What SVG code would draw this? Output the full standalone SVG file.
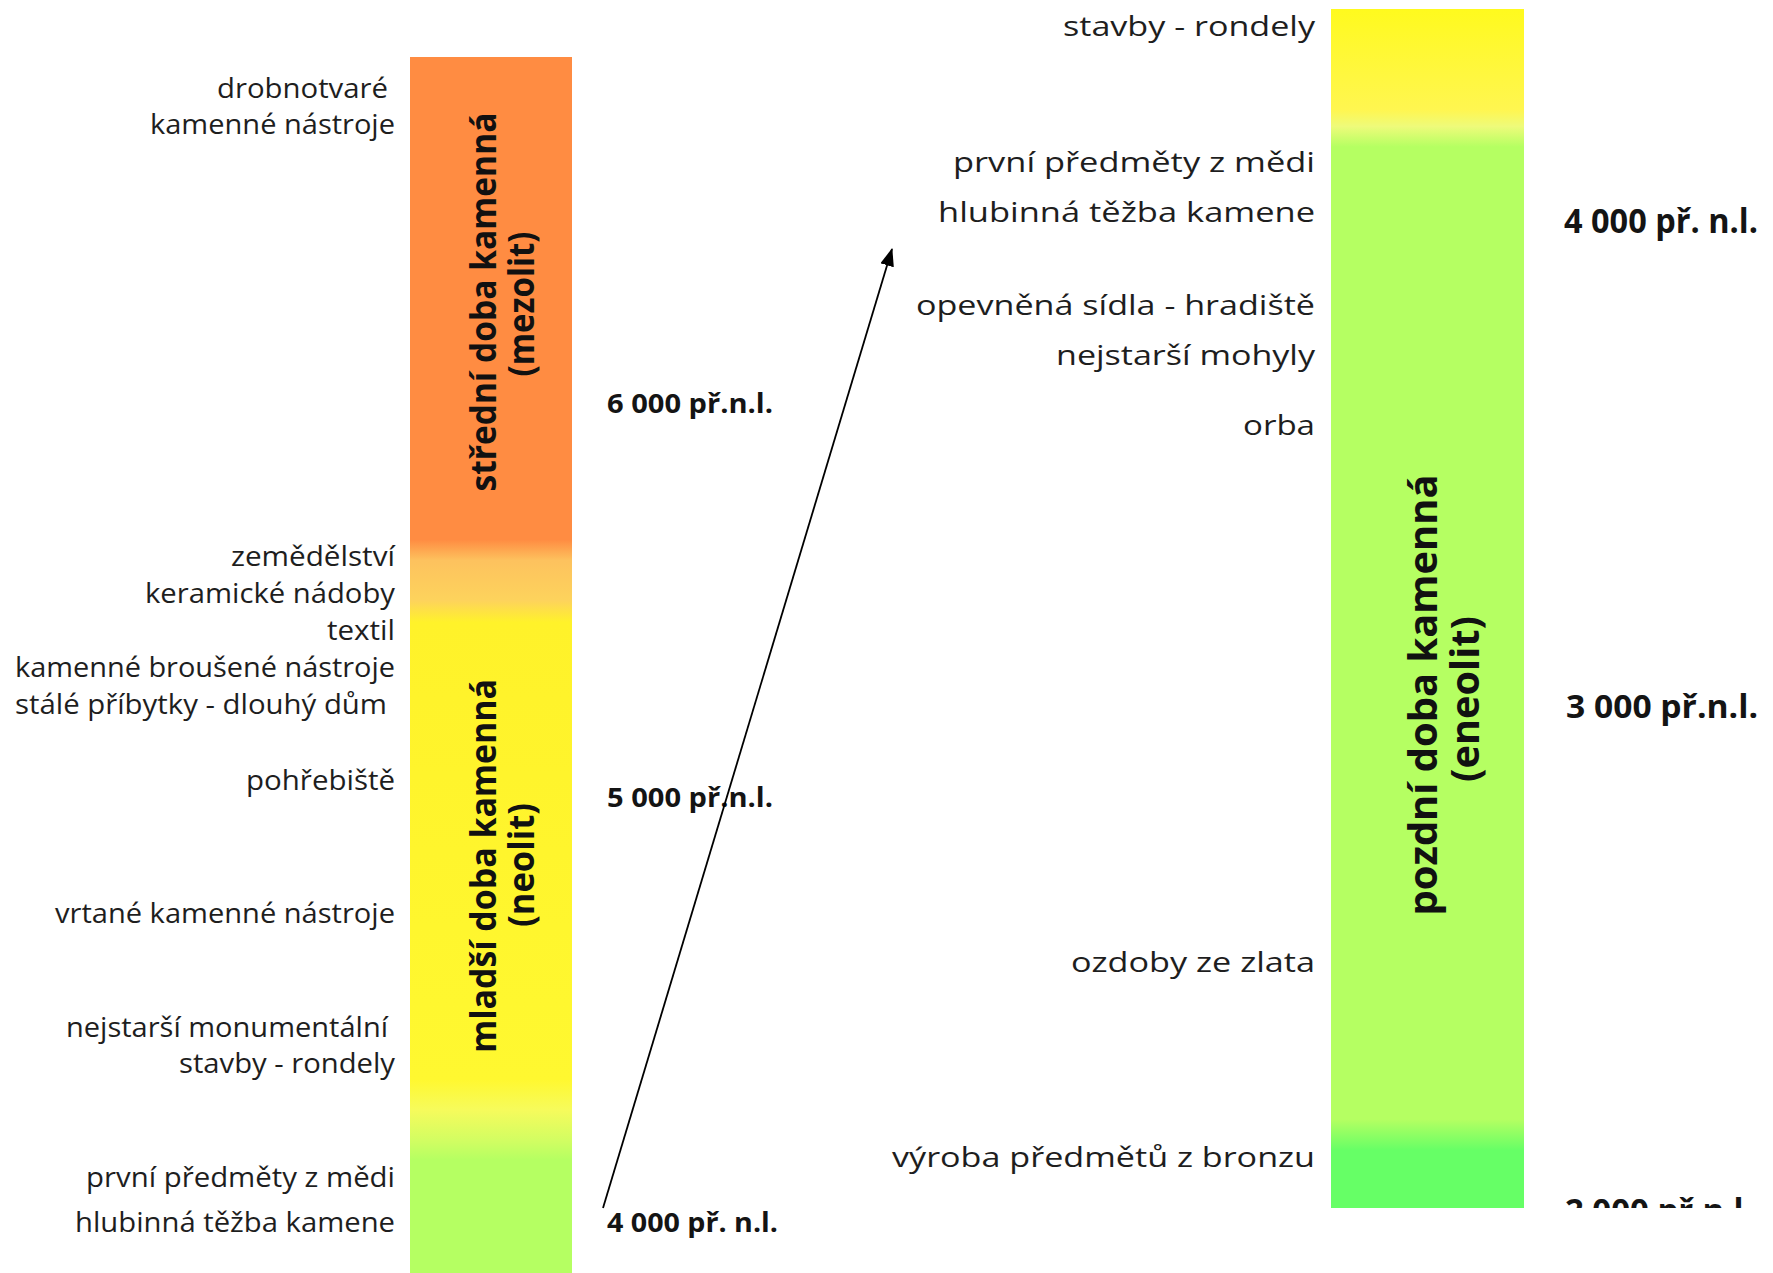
<svg xmlns="http://www.w3.org/2000/svg" width="1773" height="1273" viewBox="0 0 1773 1273">
<style>
.lbl{font-family:"Open Sans","Noto Sans","Liberation Sans",sans-serif;font-size:28px;fill:#1e1e1e;text-anchor:end}
.date{font-family:"Open Sans","Noto Sans","Liberation Sans",sans-serif;font-weight:bold;fill:#141414}
.per{font-family:"Open Sans","Noto Sans","Liberation Sans",sans-serif;font-weight:bold;fill:#111;text-anchor:middle;dominant-baseline:central}
</style>
<defs>
<linearGradient id="gL" x1="0" y1="57" x2="0" y2="1273" gradientUnits="userSpaceOnUse">
<stop offset="0" stop-color="#FF8C42"/>
<stop offset="0.397" stop-color="#FF8C42"/>
<stop offset="0.414" stop-color="#FDC25E"/>
<stop offset="0.447" stop-color="#FDD35C"/>
<stop offset="0.465" stop-color="#FFF22A"/>
<stop offset="0.841" stop-color="#FFF830"/>
<stop offset="0.866" stop-color="#F6FB5C"/>
<stop offset="0.891" stop-color="#D2FD62"/>
<stop offset="0.907" stop-color="#B5FF62"/>
<stop offset="1" stop-color="#B5FF62"/>
</linearGradient>
<linearGradient id="gR" x1="0" y1="9" x2="0" y2="1208" gradientUnits="userSpaceOnUse">
<stop offset="0" stop-color="#FFFA1E"/>
<stop offset="0.034" stop-color="#FFF833"/>
<stop offset="0.084" stop-color="#FFF650"/>
<stop offset="0.098" stop-color="#EEFB7A"/>
<stop offset="0.115" stop-color="#B5FF62"/>
<stop offset="0.926" stop-color="#B5FF62"/>
<stop offset="0.952" stop-color="#66FF66"/>
<stop offset="1" stop-color="#66FF66"/>
</linearGradient>
<clipPath id="clipR"><rect x="1540" y="1150" width="233" height="58"/></clipPath>
<marker id="ah" viewBox="0 0 18 14" refX="17" refY="7" markerWidth="18" markerHeight="14" markerUnits="userSpaceOnUse" orient="auto">
<path d="M0,0 L18,7 L0,14 z" fill="#000"/>
</marker>
</defs>
<rect width="1773" height="1273" fill="#fff"/>

<g id="left-timeline">
<rect x="410" y="57" width="162" height="1216" fill="url(#gL)"/>
<text class="per" font-size="36" textLength="379" lengthAdjust="spacingAndGlyphs" transform="translate(482,302) rotate(-90)">střední doba kamenná</text>
<text class="per" font-size="36" textLength="145" lengthAdjust="spacingAndGlyphs" transform="translate(520,304) rotate(-90)">(mezolit)</text>
<text class="per" font-size="36" textLength="374" lengthAdjust="spacingAndGlyphs" transform="translate(482,866) rotate(-90)">mladší doba kamenná</text>
<text class="per" font-size="36" textLength="124" lengthAdjust="spacingAndGlyphs" transform="translate(520,865) rotate(-90)">(neolit)</text>
</g>

<g id="left-labels">
<text class="lbl" x="388" y="98" textLength="171" lengthAdjust="spacingAndGlyphs">drobnotvaré</text>
<text class="lbl" x="395" y="134" textLength="245" lengthAdjust="spacingAndGlyphs">kamenné nástroje</text>
<text class="lbl" x="395" y="566" textLength="164" lengthAdjust="spacingAndGlyphs">zemědělství</text>
<text class="lbl" x="395" y="603" textLength="250" lengthAdjust="spacingAndGlyphs">keramické nádoby</text>
<text class="lbl" x="395" y="640" textLength="68" lengthAdjust="spacingAndGlyphs">textil</text>
<text class="lbl" x="395" y="677" textLength="380" lengthAdjust="spacingAndGlyphs">kamenné broušené nástroje</text>
<text class="lbl" x="387" y="714" textLength="372" lengthAdjust="spacingAndGlyphs">stálé příbytky - dlouhý dům</text>
<text class="lbl" x="395" y="790" textLength="149" lengthAdjust="spacingAndGlyphs">pohřebiště</text>
<text class="lbl" x="395" y="923" textLength="340" lengthAdjust="spacingAndGlyphs">vrtané kamenné nástroje</text>
<text class="lbl" x="388" y="1037" textLength="322" lengthAdjust="spacingAndGlyphs">nejstarší monumentální</text>
<text class="lbl" x="395" y="1073" textLength="216" lengthAdjust="spacingAndGlyphs">stavby - rondely</text>
<text class="lbl" x="395" y="1187" textLength="309" lengthAdjust="spacingAndGlyphs">první předměty z mědi</text>
<text class="lbl" x="395" y="1232" textLength="320" lengthAdjust="spacingAndGlyphs">hlubinná těžba kamene</text>
</g>

<g id="left-dates">
<text class="date" x="607" y="413" font-size="26" textLength="166" lengthAdjust="spacingAndGlyphs">6 000 př.n.l.</text>
<text class="date" x="607" y="807" font-size="26" textLength="166" lengthAdjust="spacingAndGlyphs">5 000 př.n.l.</text>
<text class="date" x="607" y="1232" font-size="26" textLength="171" lengthAdjust="spacingAndGlyphs">4 000 př. n.l.</text>
</g>

<g id="right-timeline">
<rect x="1331" y="9" width="193" height="1199" fill="url(#gR)"/>
<text class="per" font-size="40" textLength="441" lengthAdjust="spacingAndGlyphs" transform="translate(1421,695) rotate(-90)">pozdní doba kamenná</text>
<text class="per" font-size="40" textLength="166" lengthAdjust="spacingAndGlyphs" transform="translate(1463,699) rotate(-90)">(eneolit)</text>
</g>

<g id="right-labels">
<text class="lbl" x="1315" y="36" textLength="252" lengthAdjust="spacingAndGlyphs">stavby - rondely</text>
<text class="lbl" x="1315" y="172" textLength="362" lengthAdjust="spacingAndGlyphs">první předměty z mědi</text>
<text class="lbl" x="1315" y="222" textLength="377" lengthAdjust="spacingAndGlyphs">hlubinná těžba kamene</text>
<text class="lbl" x="1315" y="315" textLength="399" lengthAdjust="spacingAndGlyphs">opevněná sídla - hradiště</text>
<text class="lbl" x="1315" y="365" textLength="259" lengthAdjust="spacingAndGlyphs">nejstarší mohyly</text>
<text class="lbl" x="1315" y="435" textLength="72" lengthAdjust="spacingAndGlyphs">orba</text>
<text class="lbl" x="1315" y="972" textLength="244" lengthAdjust="spacingAndGlyphs">ozdoby ze zlata</text>
<text class="lbl" x="1315" y="1167" textLength="423" lengthAdjust="spacingAndGlyphs">výroba předmětů z bronzu</text>
</g>

<g id="right-dates">
<text class="date" x="1564" y="233" font-size="34" textLength="194" lengthAdjust="spacingAndGlyphs">4 000 př. n.l.</text>
<text class="date" x="1566" y="718" font-size="33" textLength="192" lengthAdjust="spacingAndGlyphs">3 000 př.n.l.</text>
<g clip-path="url(#clipR)">
<text class="date" x="1565" y="1222" font-size="33" textLength="188" lengthAdjust="spacingAndGlyphs">2 000 př.n.l.</text>
</g>
</g>

<g id="connectors">
<line x1="603" y1="1208" x2="892" y2="249" stroke="#000" stroke-width="1.8" marker-end="url(#ah)"/>
</g>
</svg>
